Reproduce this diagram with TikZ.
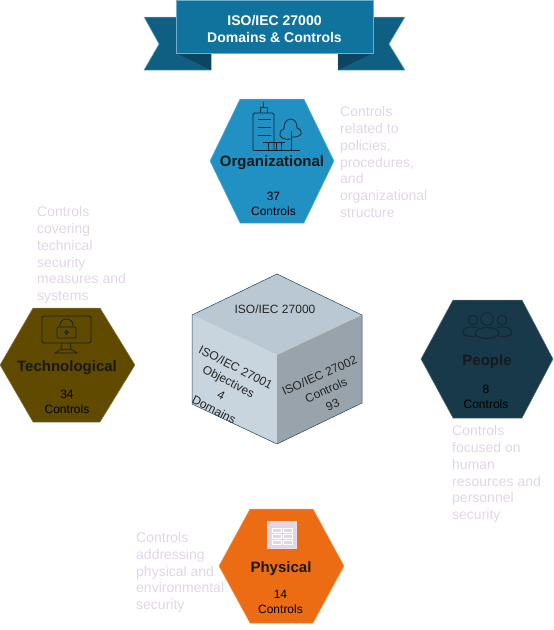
\documentclass[tikz,border=0pt]{standalone}
\usepackage{fontspec}
\setmainfont{Liberation Sans}
\definecolor{orgblue}{HTML}{2191C4}
\definecolor{techbrown}{HTML}{5F4A00}
\definecolor{peopleblue}{HTML}{17394A}
\definecolor{physorange}{HTML}{EB6C12}
\definecolor{desclilac}{HTML}{E1D5E7}
\definecolor{bannermain}{HTML}{10739E}
\definecolor{bannertail}{HTML}{0F5F83}
\definecolor{bannerfold}{HTML}{0B4560}
\definecolor{bannerline}{HTML}{6FAFCB}
\definecolor{cubeline}{HTML}{23445D}
\definecolor{cubetopfill}{HTML}{BAC8D3}
\definecolor{cubeleftfill}{HTML}{C8D4DE}
\definecolor{cuberightfill}{HTML}{98A3AB}
\definecolor{icondark}{HTML}{14222B}
\tikzset{
  hexbox/.style={line width=0.5pt},
  hexname/.style={inner sep=0pt, text=black!90, font=\fontsize{15}{18}\selectfont\bfseries},
  hexcount/.style={inner sep=0pt, align=center, text=black, font=\fontsize{12}{15}\selectfont},
  desctext/.style={anchor=west, inner sep=0pt, align=left, text=desclilac, font=\fontsize{14}{16.8}\selectfont},
  cubetext/.style={inner sep=0pt, align=center, text=black!85, font=\fontsize{12}{16}\selectfont},
  iconline/.style={draw=icondark, line width=0.8pt}
}
\begin{document}
\begin{tikzpicture}[x=1pt,y=-1pt]
    \useasboundingbox (0,0) rectangle (554,630);
    % banner with its two tails and folds
    \draw[fill=bannertail, draw=bannerline, line width=0.5pt]
      (144,17) -- (176,17) -- (211,53) -- (211,70) -- (144,70) -- (159,44) -- cycle;
    \draw[fill=bannertail, draw=bannerline, line width=0.5pt]
      (405,17) -- (373,17) -- (338,53) -- (338,70) -- (405,70) -- (389,44) -- cycle;
    \fill[bannerfold] (176,53) -- (211,53) -- (211,70) -- cycle;
    \fill[bannerfold] (373,53) -- (338,53) -- (338,70) -- cycle;
    \draw[fill=bannermain, draw=bannerline, line width=0.5pt] (176,0) rectangle (373,53);
    \node[inner sep=0pt, align=center, text=white, font=\fontsize{14}{16.8}\selectfont\bfseries]
      (title) at (274.5,29) {ISO/IEC 27000\\Domains \& Controls};
    % central cube
    \fill[cubetopfill] (277,274) -- (362,315) -- (277,355) -- (192,315) -- cycle;
    \fill[cubeleftfill] (192,315) -- (277,355) -- (277,444) -- (192,404) -- cycle;
    \fill[cuberightfill] (362,315) -- (277,355) -- (277,444) -- (362,403) -- cycle;
    \draw[cubeline, line width=0.5pt] (277,274) -- (362,315) -- (362,403) -- (277,444) -- (192,404) -- (192,315) -- cycle;
    \node[cubetext] (cubetop) at (275,309.5) {ISO/IEC 27000};
    \node[cubetext, rotate=-27] (cubeleft) at (225,388.5) {ISO/IEC 27001\\Objectives\\4\\Domains};
    \node[cubetext, rotate=24] (cuberight) at (326,390) {ISO/IEC 27002\\Controls\\93};
    % organizational
    \draw[hexbox, fill=orgblue, draw=orgblue!70!white]
      (240,99) -- (304,99) -- (334,161) -- (304,223) -- (240,223) -- (210,161) -- cycle;
    \draw[iconline, rounded corners=1.5pt] (253,150) -- (253,113) -- (274,113) -- (274,150);
    \draw[iconline] (260,113) -- (260,107) -- (267,107) -- (267,113);
    \draw[iconline] (263.5,107) -- (263.5,102);
    \draw[iconline] (258,119) -- (271,119);
    \draw[iconline] (258,127) -- (271,127);
    \draw[iconline] (258,135) -- (271,135);
    \draw[iconline] (253,150) -- (300,150);
    \draw[iconline] (263,142) -- (285,142);
    \draw[iconline] (268,142) -- (268,150);
    \draw[iconline] (276,142) -- (276,150);
    \draw[iconline] (281,142) -- (281,150);
    \draw[iconline] (291,150) -- (291,131);
    \draw[iconline] (291,139) .. controls (278,141) and (277,131) .. (284,129)
      .. controls (283,116) and (298,116) .. (297,128)
      .. controls (304,130) and (303,138) .. (291,137);
    \node[hexname] (orgname) at (272,163) {Organizational};
    \node[hexcount] (orgcount) at (273.5,203.5) {37\\Controls};
    \node[desctext] (orgdesc) at (340,162)
      {Controls\\related to\\policies,\\procedures,\\and\\organizational\\structure};
    % technological
    \draw[hexbox, fill=techbrown, draw=techbrown!70!white]
      (33,308) -- (100,308) -- (135,365) -- (100,422) -- (33,422) -- (0,365) -- cycle;
    \draw[iconline, rounded corners=1.5pt] (42,316) rectangle (91,343);
    \draw[iconline] (62,343) -- (61,349) -- (55,353) -- (77,353) -- (71,349) -- (70,343);
    \draw[iconline] (61,349) -- (71,349);
    \draw[iconline, rounded corners=1pt] (57,327) rectangle (76,338);
    \draw[iconline] (60,327) -- (60,325) arc[start angle=180, end angle=0, x radius=6.5, y radius=-6] -- (73,327);
    \draw[iconline] (66.5,332.5) circle[radius=1.7];
    \node[hexname] (techname) at (67,367.5) {Technological};
    \node[hexcount] (techcount) at (67,401.5) {34\\Controls};
    \node[desctext] (techdesc) at (37,255)
      {Controls\\covering\\technical\\security\\measures and\\systems};
    % people
    \draw[hexbox, fill=peopleblue, draw=peopleblue!70!white]
      (453,300) -- (522,300) -- (553,359) -- (522,418) -- (453,418) -- (421,359) -- cycle;
    \draw[iconline] (473,320) circle[radius=4.8];
    \draw[iconline] (502,320) circle[radius=4.8];
    \draw[iconline] (487,319) circle[radius=6.3];
    \draw[iconline] (487,333) ellipse[x radius=12, y radius=5.5];
    \draw[iconline] (477,327.5) .. controls (466,325) and (463,330) .. (463,333) .. controls (463,336) and (470,337) .. (476,336);
    \draw[iconline] (497,327.5) .. controls (508,325) and (512,330) .. (512,333) .. controls (512,336) and (505,337) .. (498,336);
    \node[hexname] (peoplename) at (487,361.5) {People};
    \node[hexcount] (peoplecount) at (486,396.5) {8\\Controls};
    \node[desctext] (peopledesc) at (452,474)
      {Controls\\focused on\\human\\resources and\\personnel\\security};
    % physical
    \draw[hexbox, fill=physorange, draw=physorange!70!white]
      (250,509) -- (313,509) -- (344,566) -- (313,623) -- (250,623) -- (219,566) -- cycle;
    \draw[fill=desclilac, draw=desclilac!80!white, line width=0.5pt] (267,521) rectangle (296,548);
    \draw[white, line width=0.6pt] (272,528.3) rectangle (281,532.7);
    \draw[white, line width=0.6pt] (283,528.3) rectangle (292,532.7);
    \draw[white, line width=0.6pt] (272,534.3) rectangle (281,538.7);
    \draw[white, line width=0.6pt] (283,534.3) rectangle (292,538.7);
    \draw[white, line width=0.6pt] (272,540.3) rectangle (281,544.7);
    \draw[white, line width=0.6pt] (283,540.3) rectangle (292,544.7);
    \node[hexname] (physname) at (281,568.5) {Physical};
    \node[hexcount] (physcount) at (280.5,601.5) {14\\Controls};
    \node[desctext] (physdesc) at (136,572.5)
      {Controls\\addressing\\physical and\\environmental\\security};
  \end{tikzpicture}
\end{document}
